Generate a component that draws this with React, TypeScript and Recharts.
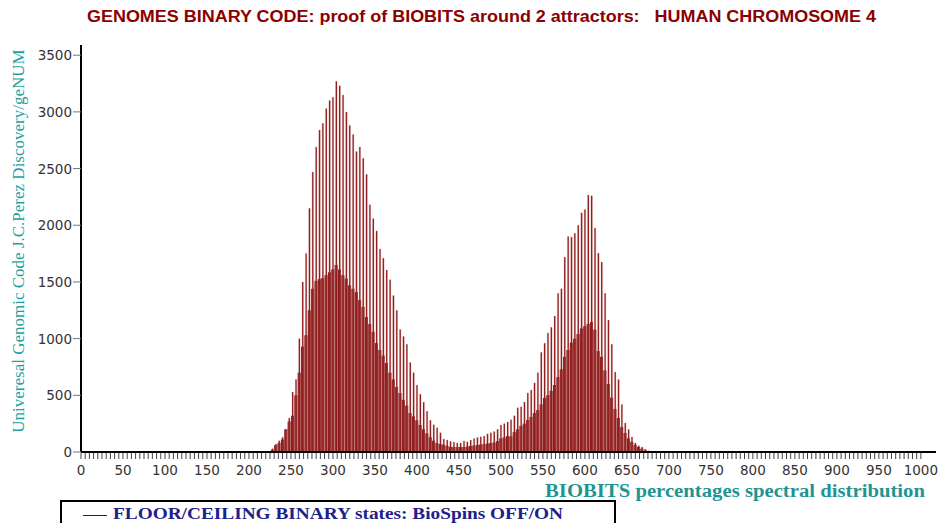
import React from "react";
import {
  ComposedChart,
  Bar,
  XAxis,
  YAxis,
  ReferenceLine,
} from "recharts";

// BIOBITS positions (percentage per-mille) where the floor/ceiling pairs are sampled
const BIOBIT_X = [
  224, 228, 232, 236, 240, 244, 248, 252, 256, 260,
  264, 268, 272, 276, 280, 284, 288, 292, 296, 300,
  304, 308, 312, 316, 320, 324, 328, 332, 336, 340,
  344, 348, 352, 356, 360, 364, 368, 372, 376, 380,
  384, 388, 392, 396, 400, 404, 408, 412, 416, 420,
  424, 428, 432, 436, 440, 444, 448, 452, 456, 460,
  464, 468, 472, 476, 480, 484, 488, 492, 496, 500,
  504, 508, 512, 516, 520, 524, 528, 532, 536, 540,
  544, 548, 552, 556, 560, 564, 568, 572, 576, 580,
  584, 588, 592, 596, 600, 604, 608, 612, 616, 620,
  624, 628, 632, 636, 640, 644, 648, 652, 656, 660,
  664, 668, 672, 676,
];

// CEILING states (BioSpins ON) - tall spikes
const CEILING = [
  5, 30, 70, 100, 130, 200, 300, 529, 640, 1000,
  1500, 1750, 2150, 2470, 2690, 2840, 2900, 3030, 3100, 3130,
  3270, 3230, 3150, 3000, 2880, 2800, 2650, 2690, 2590, 2450,
  2180, 2060, 1950, 1790, 1710, 1605, 1520, 1380, 1250, 1080,
  1020, 950, 790, 700, 590, 510, 440, 360, 280, 240,
  215, 170, 115, 106, 95, 88, 79, 80, 97, 90,
  106, 118, 128, 134, 141, 160, 170, 180, 200, 238,
  250, 265, 285, 320, 390, 400, 441, 520, 547, 610,
  700, 880, 960, 1050, 1100, 1200, 1400, 1440, 1720, 1900,
  1896, 1930, 2000, 2110, 2140, 2266, 2260, 1975, 1755, 1676,
  1400, 1164, 950, 705, 640, 420, 256, 200, 132, 80,
  55, 44, 25, 12,
];

// FLOOR states (BioSpins OFF) - dense lower envelope
const FLOOR = [
  0, 20, 60, 80, 110, 200, 270, 320, 500, 700,
  930, 1030, 1250, 1440, 1510, 1525, 1535, 1560, 1585, 1610,
  1650, 1610, 1560, 1530, 1470, 1440, 1410, 1340, 1280, 1190,
  1130, 1060, 961, 900, 850, 785, 700, 640, 573, 520,
  460, 410, 344, 315, 280, 238, 200, 165, 130, 100,
  80, 70, 65, 55, 45, 44, 44, 44, 44, 48,
  53, 58, 62, 66, 70, 75, 79, 84, 95, 120,
  128, 140, 140, 175, 200, 230, 250, 282, 310, 344,
  370, 420, 476, 500, 540, 591, 661, 730, 840, 900,
  965, 1000, 1040, 1090, 1110, 1130, 1146, 1080, 890, 840,
  720, 600, 480, 380, 300, 220, 168, 120, 90, 62,
  45, 30, 15, 5,
];

const Y_TICKS = [0, 500, 1000, 1500, 2000, 2500, 3000, 3500];
const X_LABEL_STEP = 50;
const X_MINOR_STEP = 5;
const X_MAX_TICK = 1000;

const TITLE =
  "GENOMES BINARY CODE: proof of BIOBITS around 2 attractors:   HUMAN CHROMOSOME 4";
const Y_TITLE = "Univeresal Genomic Code J.C.Perez Discovery/geNUM";
const X_TITLE = "BIOBITS percentages spectral distribution";
const LEGEND_TEXT = "FLOOR/CEILING BINARY states: BioSpins OFF/ON";

const data = BIOBIT_X.map((x, i) => ({
  x,
  floor: FLOOR[i] ?? 0,
  ceil: CEILING[i] ?? 0,
}));

const xTicks: number[] = [];
for (let v = 0; v <= X_MAX_TICK; v += X_MINOR_STEP) xTicks.push(v);

const XTick = (props: any) => {
  const { x, y, payload } = props;
  const v = payload.value as number;
  return (
    <g>
      <line x1={x} x2={x} y1={y + 1} y2={y + 7} stroke="#444" strokeWidth={1} />
      {v % X_LABEL_STEP === 0 ? (
        <text
          x={x}
          y={y + 23}
          textAnchor="middle"
          fontFamily="'DejaVu Sans', Verdana, sans-serif"
          fontSize={13.5}
          fill="#333"
        >
          {v}
        </text>
      ) : null}
    </g>
  );
};

const YTick = (props: any) => {
  const { x, y, payload } = props;
  return (
    <text
      x={x}
      y={y + 5}
      textAnchor="end"
      fontFamily="'DejaVu Sans', Verdana, sans-serif"
      fontSize={13.5}
      fill="#333"
    >
      {payload.value}
    </text>
  );
};

export default function App() {
  return (
    <div
      style={{
        position: "absolute",
        left: 0,
        top: 0,
        width: 944,
        height: 523,
        background: "#fff",
        overflow: "hidden",
      }}
    >
      <ComposedChart
        width={944}
        height={523}
        data={data}
        margin={{ top: 45, right: 8, left: 0, bottom: 0 }}
      >
        <XAxis
          xAxisId="floor"
          dataKey="x"
          type="number"
          domain={[0, 1018]}
          ticks={xTicks}
          interval={0}
          height={71}
          tickSize={0}
          tickMargin={0}
          tickLine={false}
          axisLine={{ stroke: "#000", strokeWidth: 2 }}
          tick={<XTick />}
          allowDataOverflow
        />
        <XAxis
          xAxisId="ceil"
          dataKey="x"
          type="number"
          domain={[0, 1018]}
          orientation="top"
          height={0}
          hide
          allowDataOverflow
        />
        <YAxis
          type="number"
          domain={[0, 3590]}
          ticks={Y_TICKS}
          width={81}
          tickSize={8}
          tickMargin={1}
          tickLine={{ stroke: "#777" }}
          axisLine={{ stroke: "#000", strokeWidth: 2 }}
          tick={<YTick />}
          interval={0}
          allowDataOverflow
        />
        <Bar
          xAxisId="floor"
          dataKey="floor"
          barSize={3.7}
          fill="#800000"
          isAnimationActive={false}
        />
        <Bar
          xAxisId="ceil"
          dataKey="ceil"
          barSize={1.4}
          fill="#800000"
          stroke="#d8a0a0"
          strokeWidth={0.35}
          isAnimationActive={false}
        />
        <ReferenceLine
          xAxisId="floor"
          y={0}
          stroke="#2020a0"
          strokeWidth={1}
        />
      </ComposedChart>
      <svg
        width={944}
        height={523}
        style={{ position: "absolute", left: 0, top: 0, pointerEvents: "none" }}
      >
        <text
          x={87}
          y={22}
          textLength={789}
          lengthAdjust="spacingAndGlyphs"
          fontFamily="'Liberation Sans', Arial, sans-serif"
          fontWeight="bold"
          fontSize={16}
          fill="#8b0000"
          style={{ whiteSpace: "pre" }}
        >
          {TITLE}
        </text>
        <text
          transform="translate(24,241) rotate(-90)"
          textAnchor="middle"
          fontFamily="'Liberation Serif', 'Times New Roman', serif"
          fontSize={17}
          fill="#1f9f9f"
        >
          {Y_TITLE}
        </text>
        <text
          x={545}
          y={497}
          textLength={380}
          lengthAdjust="spacingAndGlyphs"
          fontFamily="'Liberation Serif', 'Times New Roman', serif"
          fontWeight="bold"
          fontSize={18}
          fill="#1f9592"
        >
          {X_TITLE}
        </text>
      </svg>
      <div
        style={{
          position: "absolute",
          left: 60,
          top: 500,
          width: 552,
          height: 40,
          border: "2px solid #000",
          background: "#fff",
        }}
      >
        <div
          style={{
            position: "absolute",
            left: 21,
            top: 13,
            width: 24,
            height: 0,
            borderTop: "1px solid #800000",
          }}
        />
        <svg
          width={520}
          height={30}
          style={{ position: "absolute", left: 0, top: 0 }}
        >
          <text
            x={51}
            y={17}
            textLength={450}
            lengthAdjust="spacingAndGlyphs"
            fontFamily="'Liberation Serif', 'Times New Roman', serif"
            fontWeight="bold"
            fontSize={16.5}
            fill="#20208a"
          >
            {LEGEND_TEXT}
          </text>
        </svg>
      </div>
    </div>
  );
}
